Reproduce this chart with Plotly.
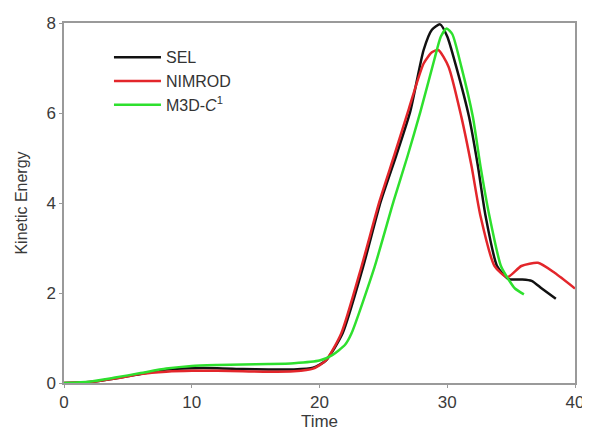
import plotly.graph_objects as go

# SEL
sel_t = [0, 2, 4, 6, 8, 10, 12, 14, 16, 18, 19.5, 20.5, 21.8, 23.4, 24.8, 26.0, 27.1,
         28.15, 28.8, 29.44, 30.0, 30.7, 31.7, 32.4, 33.0, 33.9, 34.8, 35.8, 36.6, 37.4, 38.5]
sel_ke = [0, 0.02, 0.1, 0.2, 0.3, 0.33, 0.33, 0.31, 0.3, 0.3, 0.34, 0.5, 1.1, 2.57, 4.04,
          5.05, 6.03, 7.4, 7.85, 7.97, 7.7, 7.03, 5.92, 4.82, 3.71, 2.6, 2.31, 2.3, 2.27, 2.1, 1.87]

# NIMROD
nim_t = [0, 2, 4, 6, 8, 10, 12, 14, 16, 18, 19.5, 20.5, 21.7, 23.3, 24.7, 25.9, 27.0,
         28.15, 28.8, 29.3, 30.1, 31.1, 31.9, 32.6, 33.7, 34.7, 35.8, 37.1, 38.4, 40.0]
nim_ke = [0, 0.02, 0.1, 0.2, 0.25, 0.27, 0.27, 0.26, 0.25, 0.26, 0.32, 0.5, 1.1, 2.6, 4.04,
          5.1, 6.1, 7.1, 7.35, 7.4, 7.03, 5.92, 4.82, 3.71, 2.6, 2.35, 2.6, 2.67, 2.45, 2.1]

# M3D-C1
m3d_t = [0, 2, 4, 6, 8, 10, 12, 14, 16, 18, 20, 21, 22, 22.5, 24.3, 25.8, 26.9, 27.9,
         29.0, 29.5, 29.95, 30.4, 31.1, 32.0, 32.6, 33.3, 34.2, 34.8, 35.3, 36.0]
m3d_ke = [0, 0.03, 0.12, 0.22, 0.32, 0.38, 0.4, 0.41, 0.42, 0.44, 0.5, 0.62, 0.85, 1.1, 2.57,
          4.04, 5.05, 6.03, 7.2, 7.7, 7.88, 7.75, 7.03, 5.92, 4.82, 3.71, 2.6, 2.3, 2.1, 1.97]

x_ticks = [0, 10, 20, 30, 40]
y_ticks = [0, 2, 4, 6, 8]

fig = go.Figure()
series = [
    ("SEL", sel_t, sel_ke, "#111111"),
    ("NIMROD", nim_t, nim_ke, "#e3262b"),
    ("M3D-<i>C</i><sup>1</sup>", m3d_t, m3d_ke, "#2ee02e"),
]
for name, t, ke, col in series:
    fig.add_trace(go.Scatter(x=t, y=ke, mode="lines", name=name,
                             line=dict(color=col, width=2.5, shape="spline", smoothing=0.6)))

txt = "#3a3a3a"
axis_common = dict(showgrid=False, zeroline=False, showline=True, linecolor="#9a9a9a",
                   linewidth=1.5, mirror=True, ticks="outside", ticklen=3,
                   tickcolor="#9a9a9a", tickfont=dict(size=17, color=txt),
                   ticklabeloverflow="allow")
fig.update_xaxes(range=[0, 40], tickvals=x_ticks,
                 title=dict(text="Time", font=dict(size=17, color=txt), standoff=3),
                 **axis_common)
fig.update_yaxes(range=[0, 8], tickvals=y_ticks,
                 title=dict(text="Kinetic Energy", font=dict(size=16, color=txt), standoff=15),
                 **axis_common)

# page body has an 8px default margin; compensate so the plot sits where the reference has it
fig.update_layout(
    width=582, height=425,
    margin=dict(l=56, r=6, t=13, b=50),
    paper_bgcolor="white", plot_bgcolor="white",
    font=dict(family="Liberation Sans, Arial, sans-serif", color=txt),
    legend=dict(x=0.088, y=0.952, xanchor="left", yanchor="top",
                bgcolor="rgba(0,0,0,0)", font=dict(size=16, color="#333333"),
                tracegroupgap=0, itemwidth=47),
    showlegend=True,
)

fig.write_html("out.html")
